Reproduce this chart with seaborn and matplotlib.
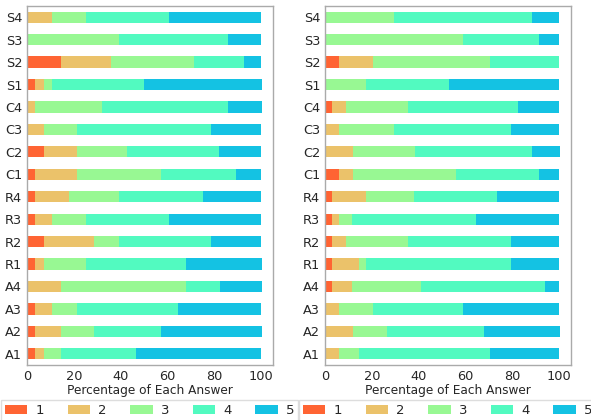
import numpy as np
import pandas as pd
import matplotlib
matplotlib.use("Agg")
import matplotlib.pyplot as plt
import seaborn as sns
from matplotlib.patches import Patch

sns.set_style("white")
plt.rcParams['font.family'] = ['DejaVu Sans']

questions = ["S4", "S3", "S2", "S1", "C4", "C3", "C2", "C1",
             "R4", "R3", "R2", "R1", "A4", "A3", "A2", "A1"]
answers = ["1", "2", "3", "4", "5"]
colors = ["#FF6433", "#EBC26A", "#98F893", "#52FAC0", "#14C2E3"]

# percentage of each answer (1..5) per question, left chart
left_pct = [
    [0.0, 10.7, 14.3, 35.7, 39.3],
    [0.0, 0.0, 39.3, 46.4, 14.3],
    [14.3, 21.4, 35.7, 21.4, 7.1],
    [3.6, 3.6, 3.6, 39.3, 50.0],
    [0.0, 3.6, 28.6, 53.6, 14.3],
    [0.0, 7.1, 14.3, 57.1, 21.4],
    [7.1, 14.3, 21.4, 39.3, 17.9],
    [3.6, 17.9, 35.7, 32.1, 10.7],
    [3.6, 14.3, 21.4, 35.7, 25.0],
    [3.6, 7.1, 14.3, 35.7, 39.3],
    [7.1, 21.4, 10.7, 39.3, 21.4],
    [3.6, 3.6, 17.9, 42.9, 32.1],
    [0.0, 14.3, 53.6, 14.3, 17.9],
    [3.6, 7.1, 10.7, 42.9, 35.7],
    [3.6, 10.7, 14.3, 28.6, 42.9],
    [3.6, 3.6, 7.1, 32.1, 53.6],
]

# right chart
right_pct = [
    [0.0, 0.0, 29.4, 58.8, 11.8],
    [0.0, 0.0, 58.8, 32.4, 8.8],
    [5.9, 14.7, 50.0, 29.4, 0.0],
    [0.0, 0.0, 17.6, 35.3, 47.1],
    [2.9, 5.9, 26.5, 47.1, 17.6],
    [0.0, 5.9, 23.5, 50.0, 20.6],
    [0.0, 11.8, 26.5, 50.0, 11.8],
    [5.9, 5.9, 44.1, 35.3, 8.8],
    [2.9, 14.7, 20.6, 35.3, 26.5],
    [2.9, 2.9, 5.9, 52.9, 35.3],
    [2.9, 5.9, 26.5, 44.1, 20.6],
    [2.9, 11.8, 2.9, 61.8, 20.6],
    [2.9, 8.8, 29.4, 52.9, 5.9],
    [0.0, 5.9, 14.7, 38.2, 41.2],
    [0.0, 11.8, 14.7, 41.2, 32.4],
    [0.0, 5.9, 8.8, 55.9, 29.4],
]


def stacked(ax, pct):
    df = pd.DataFrame(pct, columns=answers)
    df["q"] = questions
    cum = df[answers].cumsum(axis=1)
    # draw from the longest (5) back to the shortest (1) so each layer shows
    for ans, c in reversed(list(zip(answers, colors))):
        sns.barplot(x=cum[ans], y=df["q"], order=questions, orient="h",
                    color=c, saturation=1, width=0.5, ax=ax, linewidth=0)
    ax.set_xlim(0, 105)
    ax.set_ylim(15.5, -0.5)
    ax.set_xticks([0, 20, 40, 60, 80, 100])
    ax.set_xlabel("Percentage of Each Answer", fontsize=8.7, labelpad=0.5)
    ax.set_ylabel("")
    ax.tick_params(axis="both", labelsize=9.3, length=2, width=0.8,
                   color="#555555", pad=1.5)
    for s in ax.spines.values():
        s.set_color("#aaaaaa")
        s.set_linewidth(1)


fig = plt.figure(figsize=(5.91, 4.2), dpi=100)
ax1 = fig.add_axes([27/591, 55/420, 246/591, 359/420])
ax2 = fig.add_axes([325/591, 55/420, 246/591, 359/420])
stacked(ax1, left_pct)
stacked(ax2, right_pct)

handles = [Patch(facecolor=c, edgecolor="none", label=a) for a, c in zip(answers, colors)]
for x0 in (1/591, 299/591):
    fig.legend(handles=handles, loc="upper left", bbox_to_anchor=(x0, 1 - 400/420),
               ncol=5, fontsize=9.5, frameon=True, fancybox=False,
               handlelength=1.7, handletextpad=0.6, columnspacing=1.8,
               borderpad=0.3, borderaxespad=0, edgecolor="#dddddd", framealpha=1)

fig.savefig("out.png", dpi=100)
